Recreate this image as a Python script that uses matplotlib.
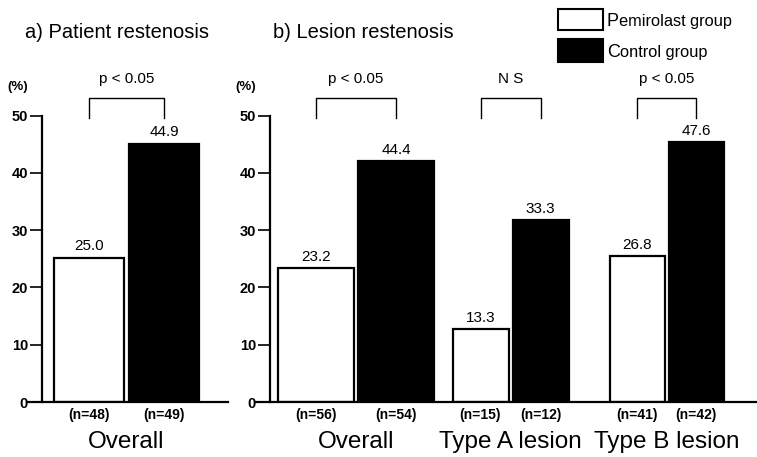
import matplotlib
matplotlib.use("Agg")
import matplotlib.pyplot as plt
from matplotlib.patches import Rectangle

plt.rcParams["font.family"] = ["Liberation Sans", "DejaVu Sans"]

# data: reported percentages (labels) and bar heights as drawn in the figure
groups_a = ["Overall"]
pemirolast_a = [25.0]
control_a = [44.9]
pemirolast_a_drawn = [25.2]
control_a_drawn = [45.1]
n_pem_a = [48]
n_ctl_a = [49]
sig_a = ["p < 0.05"]

groups_b = ["Overall", "Type A lesion", "Type B lesion"]
pemirolast_b = [23.2, 13.3, 26.8]
control_b = [44.4, 33.3, 47.6]
pemirolast_b_drawn = [23.3, 12.7, 25.5]
control_b_drawn = [42.1, 31.8, 45.3]
n_pem_b = [56, 15, 41]
n_ctl_b = [54, 12, 42]
sig_b = ["p < 0.05", "N S", "p < 0.05"]

yticks = [0, 10, 20, 30, 40, 50]

# layout (pixel-ish units inside each panel)
W, H = 757, 457
PX_PER_UNIT = 5.73
Y0 = 402
YTOP = 60


def panel(rect_px, spine_px, centers, widths, gap, groups, pem, ctl, pem_h, ctl_h,
          n_pem, n_ctl, sig):
    x0, w = rect_px
    ax = fig.add_axes([x0 / W, (H - Y0) / H, w / W, YTOP * PX_PER_UNIT / H])
    ax.set_xlim(0, w)
    ax.set_ylim(0, YTOP)
    for s in ["top", "right"]:
        ax.spines[s].set_visible(False)
    ax.spines["left"].set_position(("data", spine_px))
    ax.spines["left"].set_bounds(0, 50)
    ax.spines["left"].set_linewidth(1.6)
    ax.spines["bottom"].set_linewidth(1.6)
    ax.set_xticks([])
    ax.set_yticks(yticks)
    ax.set_yticklabels([str(t) for t in yticks], fontsize=10.5, fontweight="bold")
    ax.tick_params(axis="y", direction="out", length=9, width=1.2, pad=1)
    ax.patch.set_visible(False)

    for i, c in enumerate(centers):
        bw = widths[i]
        xp = c - (bw + gap) / 2
        xc = c + (bw + gap) / 2
        ax.bar(xp, pem_h[i], width=bw, color="white", edgecolor="black", linewidth=1.6)
        ax.bar(xc, ctl_h[i], width=bw, color="black", edgecolor="black", linewidth=1.6)
        for x, v, h in [(xp, pem[i], pem_h[i]), (xc, ctl[i], ctl_h[i])]:
            ax.annotate(f"{v:.1f}", (x, h), xytext=(0, 3), textcoords="offset points",
                        ha="center", va="bottom", fontsize=11)
        ax.text(xp, -2.3, f"(n={n_pem[i]})", ha="center", va="center", fontsize=10,
                fontweight="bold", clip_on=False)
        ax.text(xc, -2.3, f"(n={n_ctl[i]})", ha="center", va="center", fontsize=10,
                fontweight="bold", clip_on=False)
        ax.text(c, -7.0, groups[i], ha="center", va="center", fontsize=17.5, clip_on=False)
        ax.plot([xp, xp, xc, xc], [49.5, 53.1, 53.1, 49.5], color="black", lw=1.0,
                clip_on=False)
        ax.text(c, 56.4, sig[i], ha="center", va="center", fontsize=11)
    ax.text(spine_px - 24, 54.9, "(%)", ha="center", va="center", fontsize=9.5,
            fontweight="bold")
    return ax


fig = plt.figure(figsize=(W / 100, H / 100), dpi=100)

panel((28, 200), 14, [98.5], [70], 5, groups_a, pemirolast_a, control_a,
      pemirolast_a_drawn, control_a_drawn, n_pem_a, n_ctl_a, sig_a)
panel((256, 501), 14, [100, 254.5, 410.5], [76, 56, 55], 4, groups_b,
      pemirolast_b, control_b, pemirolast_b_drawn, control_b_drawn,
      n_pem_b, n_ctl_b, sig_b)

fig.text(25 / W, 1 - 32 / H, "a) Patient restenosis", fontsize=14.5, va="center")
fig.text(273 / W, 1 - 32 / H, "b) Lesion restenosis", fontsize=14.5, va="center")

# legend
fig.add_artist(Rectangle((558 / W, 1 - 30 / H), 45 / W, 21 / H, transform=fig.transFigure,
                         facecolor="white", edgecolor="black", lw=1.5))
fig.add_artist(Rectangle((558 / W, 1 - 62 / H), 45 / W, 23 / H, transform=fig.transFigure,
                         facecolor="black", edgecolor="black", lw=1.5))
fig.text(607 / W, 1 - 26 / H, "P", fontsize=13, va="baseline")
fig.text(619 / W, 1 - 26 / H, "emirolast group", fontsize=11.8, va="baseline")
fig.text(607 / W, 1 - 57 / H, "C", fontsize=13, va="baseline")
fig.text(620 / W, 1 - 57 / H, "ontrol group", fontsize=11.8, va="baseline")

fig.savefig("out.png", dpi=100)
